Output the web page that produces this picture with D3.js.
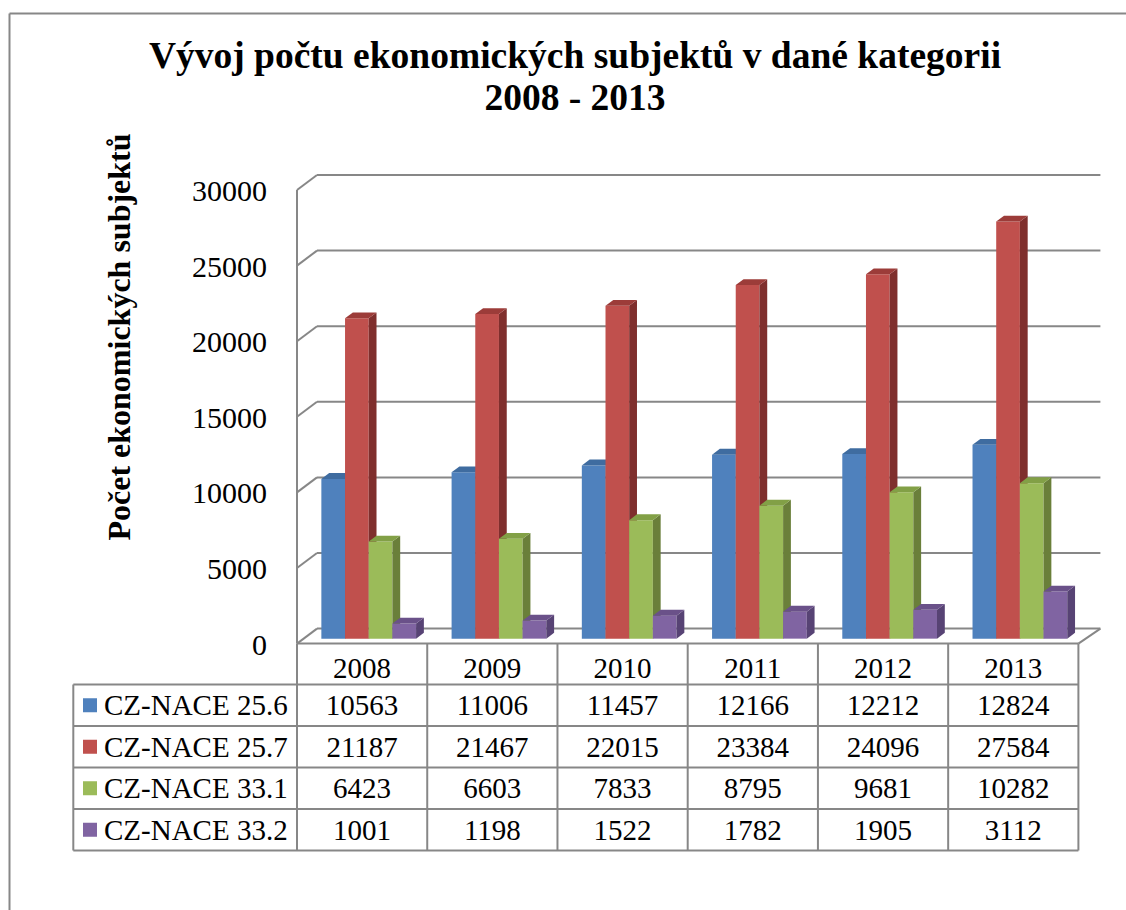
<!DOCTYPE html>
<html>
<head>
<meta charset="utf-8">
<script src="https://cdn.jsdelivr.net/npm/d3@7"></script>
<style>
  body { margin: 0; background: #fff; }
  svg { display: block; }
  text { font-family: "Liberation Serif", "Times New Roman", serif; fill: #000; }
</style>
</head>
<body>
<div id="chart"></div>
<script>
// 3D clustered column chart with data table (Excel style)

const years = ["2008", "2009", "2010", "2011", "2012", "2013"];
const seriesNames = ["CZ-NACE 25.6", "CZ-NACE 25.7", "CZ-NACE 33.1", "CZ-NACE 33.2"];
const nace256 = [10563, 11006, 11457, 12166, 12212, 12824];
const nace257 = [21187, 21467, 22015, 23384, 24096, 27584];
const nace331 = [6423, 6603, 7833, 8795, 9681, 10282];
const nace332 = [1001, 1198, 1522, 1782, 1905, 3112];
const yTicks = [0, 5000, 10000, 15000, 20000, 25000, 30000];

const seriesValues = [nace256, nace257, nace331, nace332];
// front / side / top colours for each series
const colors = [
  { front: "#4F81BD", side: "#385D8A", top: "#3F6CA0" },
  { front: "#C0504D", side: "#7F2F2D", top: "#9C3C39" },
  { front: "#9BBB59", side: "#6A7F3A", top: "#82A046" },
  { front: "#8064A2", side: "#574374", top: "#6A5189" }
];

const width = 1126, height = 910;
const gridColor = "#878787";

const svg = d3.select("#chart").append("svg")
  .attr("width", width)
  .attr("height", height);

// chart frame (only top and left edges are visible in the picture)
svg.append("line").attr("x1", 9.5).attr("y1", 13.5).attr("x2", width).attr("y2", 13.5)
  .attr("stroke", gridColor).attr("stroke-width", 2);
svg.append("line").attr("x1", 9.5).attr("y1", 13.5).attr("x2", 9.5).attr("y2", height)
  .attr("stroke", gridColor).attr("stroke-width", 2);

// title
const title = svg.append("text")
  .attr("text-anchor", "middle")
  .attr("font-weight", "bold")
  .attr("font-size", 37.5);
title.append("tspan").attr("x", 575).attr("y", 68).text("Vývoj počtu ekonomických subjektů v dané kategorii");
title.append("tspan").attr("x", 575).attr("y", 110).text("2008 - 2013");

// --- 3D geometry ---
const plotLeft = 297, plotRight = 1078.4;
const depthX = 20, depthY = 15;   // offset of the back wall
const y = d3.scaleLinear().domain([0, 30000]).range([643.6, 190]);
const x0 = d3.scaleBand().domain(years).range([plotLeft, plotRight]);
const x1 = d3.scaleBand().domain(d3.range(seriesNames.length))
  .range([0, x0.bandwidth()]).paddingOuter(0.75);

// project (x, y) at depth z in [0, 1]
const P = (px, py, z) => [px + z * depthX, py - z * depthY];

// side wall diagonals + back wall gridlines
const gridG = svg.append("g");
yTicks.forEach(t => {
  const [bx, by] = P(plotLeft, y(t), 1);
  gridG.append("line")
    .attr("x1", plotLeft).attr("y1", y(t)).attr("x2", bx).attr("y2", by)
    .attr("stroke", gridColor).attr("stroke-width", 2);
  gridG.append("line")
    .attr("x1", bx).attr("y1", by).attr("x2", plotRight + depthX + 2).attr("y2", by)
    .attr("stroke", gridColor).attr("stroke-width", 2);
});
// left vertical axis edge
gridG.append("line")
  .attr("x1", plotLeft).attr("y1", y(30000)).attr("x2", plotLeft).attr("y2", y(0))
  .attr("stroke", gridColor).attr("stroke-width", 2);
// floor front edge and right edge
gridG.append("line")
  .attr("x1", plotLeft).attr("y1", y(0)).attr("x2", plotRight).attr("y2", y(0))
  .attr("stroke", gridColor).attr("stroke-width", 2);
gridG.append("line")
  .attr("x1", plotRight).attr("y1", y(0))
  .attr("x2", P(plotRight, y(0), 1)[0] + 2).attr("y2", P(plotRight, y(0), 1)[1])
  .attr("stroke", gridColor).attr("stroke-width", 2);

// y tick labels
svg.append("g").selectAll("text")
  .data(yTicks)
  .join("text")
  .attr("x", 267)
  .attr("y", d => y(d) + 11)
  .attr("text-anchor", "end")
  .attr("font-size", 30)
  .text(d => d);

// y axis title
svg.append("text")
  .attr("transform", "translate(130,337) rotate(-90)")
  .attr("text-anchor", "middle")
  .attr("font-weight", "bold")
  .attr("font-size", 32)
  .text("Počet ekonomických subjektů");

// bars
const zf = 0.33, zb = 0.72;
const poly = pts => pts.map(p => p.join(",")).join(" ");
const barsG = svg.append("g");
years.forEach((yr, i) => {
  seriesValues.forEach((vals, j) => {
    const xl = x0(yr) + x1(j);
    const xr = xl + x1.bandwidth();
    const yt = y(vals[i]);
    const yb = y(0);
    const c = colors[j];
    // front
    barsG.append("polygon")
      .attr("points", poly([P(xl, yt, zf), P(xr, yt, zf), P(xr, yb, zf), P(xl, yb, zf)]))
      .attr("fill", c.front);
    // side
    barsG.append("polygon")
      .attr("points", poly([P(xr, yt, zf), P(xr, yt, zb), P(xr, yb, zb), P(xr, yb, zf)]))
      .attr("fill", c.side);
    // top
    barsG.append("polygon")
      .attr("points", poly([P(xl, yt, zf), P(xl, yt, zb), P(xr, yt, zb), P(xr, yt, zf)]))
      .attr("fill", c.top);
  });
});

// --- data table ---
const tableLeft = 73.3;
const headerTop = y(0), headerBottom = 684.5;
const rowH = 41.5;
const rowTop = j => headerBottom + j * rowH;
const tableBottom = rowTop(seriesNames.length);
const tg = svg.append("g");
const tline = (xa, ya, xb, yb) => tg.append("line")
  .attr("x1", xa).attr("y1", ya).attr("x2", xb).attr("y2", yb)
  .attr("stroke", gridColor).attr("stroke-width", 2);

// horizontal rules
for (let j = 0; j <= seriesNames.length; j++) tline(tableLeft, rowTop(j), plotRight, rowTop(j));
// vertical rules
tline(tableLeft, headerBottom, tableLeft, tableBottom);
years.forEach(yr => tline(x0(yr), headerTop, x0(yr), tableBottom));
tline(plotRight, headerTop, plotRight, tableBottom);

// header years
tg.selectAll("text.year")
  .data(years)
  .join("text")
  .attr("class", "year")
  .attr("x", d => x0(d) + x0.bandwidth() / 2)
  .attr("y", 678)
  .attr("text-anchor", "middle")
  .attr("font-size", 29)
  .text(d => d);

// rows
seriesNames.forEach((name, j) => {
  const top = rowTop(j);
  tg.append("rect")
    .attr("x", 83).attr("y", top + rowH / 2 - 7)
    .attr("width", 14).attr("height", 14)
    .attr("fill", colors[j].front);
  tg.append("text")
    .attr("x", 104).attr("y", top + 30.5)
    .attr("font-size", 29)
    .text(name);
  years.forEach((yr, i) => {
    tg.append("text")
      .attr("x", x0(yr) + x0.bandwidth() / 2)
      .attr("y", top + 30.5)
      .attr("text-anchor", "middle")
      .attr("font-size", 29)
      .text(seriesValues[j][i]);
  });
});
</script>
</body>
</html>
